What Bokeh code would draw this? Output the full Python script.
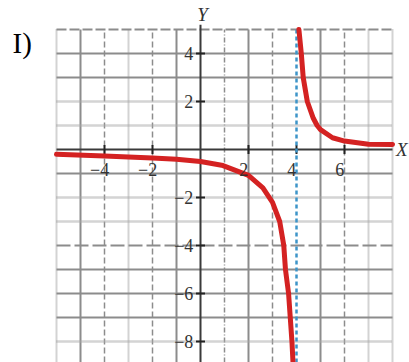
from bokeh.plotting import figure
from bokeh.core.properties import value
from bokeh.embed import file_html
from bokeh.resources import INLINE

# ---- data ----
left_x = [-6, -4, -2, -1, 0, 0.94, 2, 2.6, 3.0, 3.3, 3.47, 3.54, 3.67, 3.74, 3.81, 3.86]
left_y = [-0.2, -0.27, -0.35, -0.41, -0.5, -0.67, -1.08, -1.6, -2.2, -3.0, -4.0, -5.0, -6.0, -7.0, -8.0, -9.0]
right_x = [4.1, 4.2, 4.28, 4.45, 4.7, 4.86, 5.0, 5.5, 6, 7, 8]
right_y = [5.0, 4.0, 3.0, 2.0, 1.3, 1.0, 0.83, 0.49, 0.35, 0.22, 0.21]
asymptote_x = [4]
x_tick_vals = [-4, -2, 2, 4, 6]
x_tick_labels = ["\u22124", "\u22122", "2", "4", "6"]
y_tick_vals = [4, 2, -2, -4, -6, -8]
y_tick_labels = ["4", "2", "\u22122", "\u22124", "\u22126", "\u22128"]

# grid extent (data units) and pixel scale
GX0, GX1, GY1 = -6, 8, 5
PX = 24.0  # pixels per unit
W, H = 409, 362
LEFT, TOP = 56, 29
xs = GX0 - LEFT / PX
ys_top = GY1 + TOP / PX
x_range = (xs, xs + W / PX)
y_range = (ys_top - H / PX, ys_top)
GY0 = y_range[0]

p = figure(width=W, height=H, x_range=x_range, y_range=y_range,
           output_backend="svg", toolbar_location=None,
           min_border_left=0, min_border_right=0, min_border_top=0, min_border_bottom=0)
p.xaxis.visible = False
p.yaxis.visible = False
p.xgrid.visible = False
p.ygrid.visible = False
p.outline_line_color = None
p.background_fill_color = "white"
p.border_fill_color = "white"

GRID = "#8c8c8c"
LIGHT = "#a8a8a8"

def vlines(ticks, dash, width, color=GRID):
    p.segment(x0=ticks, y0=[GY0] * len(ticks), x1=ticks, y1=[GY1] * len(ticks),
              line_color=color, line_width=width, line_dash=dash)

def hlines(ticks, dash, width, color=GRID):
    p.segment(x0=[GX0] * len(ticks), y0=ticks, x1=[GX1] * len(ticks), y1=ticks,
              line_color=color, line_width=width, line_dash=dash)

# vertical grid lines
vlines([-5, -1, 2, 5], "solid", 2)
vlines([-4, -2, 3, 6], "6 3", 1.5)
vlines([1], "5 2 1 2", 1.5)
vlines([-6, -3, 7, 8], "1 1", 2, LIGHT)
# horizontal grid lines
hlines([4, 3, -1, -5, -6, -7], "solid", 2)
hlines([2, 1, -2, -3, -8], "1 1", 2.5, LIGHT)
hlines([-4], "14 4", 2)
hlines([5], "10 3", 2)

# axes
p.segment(x0=[GX0], y0=[0], x1=[GX1], y1=[0], line_color="#3a3a3a", line_width=2)
p.segment(x0=[0], y0=[GY0], x1=[0], y1=[GY1 + 0.2], line_color="#3a3a3a", line_width=2)

# tick marks
p.scatter(x_tick_vals, [0] * len(x_tick_vals), marker="dash", angle=1.5708,
          size=9, line_color="#222222", line_width=2)
p.scatter([0] * len(y_tick_vals), y_tick_vals, marker="dash",
          size=9, line_color="#222222", line_width=2)

# asymptote
p.segment(x0=asymptote_x, y0=[GY0], x1=asymptote_x, y1=[GY1],
          line_color="#3d94c8", line_width=2.5, line_dash="4 3")

# curve
p.line(left_x, left_y, line_color="#d42222", line_width=5, line_join="round", line_cap="round")
p.line(right_x, right_y, line_color="#d42222", line_width=5, line_join="round", line_cap="round")

serif = value("Liberation Serif")
# x tick labels
p.text([v - 0.2 for v in x_tick_vals], [-0.85] * len(x_tick_vals), text=x_tick_labels,
       text_font=serif, text_font_size="18px", text_align="center", text_baseline="middle",
       text_color="#333333")
# y tick labels
p.text([-0.3] * len(y_tick_vals), y_tick_vals, text=y_tick_labels,
       text_font=serif, text_font_size="18px", text_align="right", text_baseline="middle",
       text_color="#333333")

# axis names and panel label
p.text([0.08], [GY1 + 0.17], text=["Y"], text_font=serif, text_font_style="italic",
       text_font_size="19px", text_color="#333333", text_align="center", text_baseline="bottom")
p.text([GX1 + 0.15], [0], text=["X"], text_font=serif, text_font_style="italic",
       text_font_size="19px", text_color="#333333", text_align="left", text_baseline="middle")
p.text([GX0 - 1.83], [GY1 - 0.58], text=["I)"], text_font=serif,
       text_font_size="29px", text_color="#000000", text_align="left", text_baseline="alphabetic")

open("out.html", "w").write(file_html(p, INLINE))
